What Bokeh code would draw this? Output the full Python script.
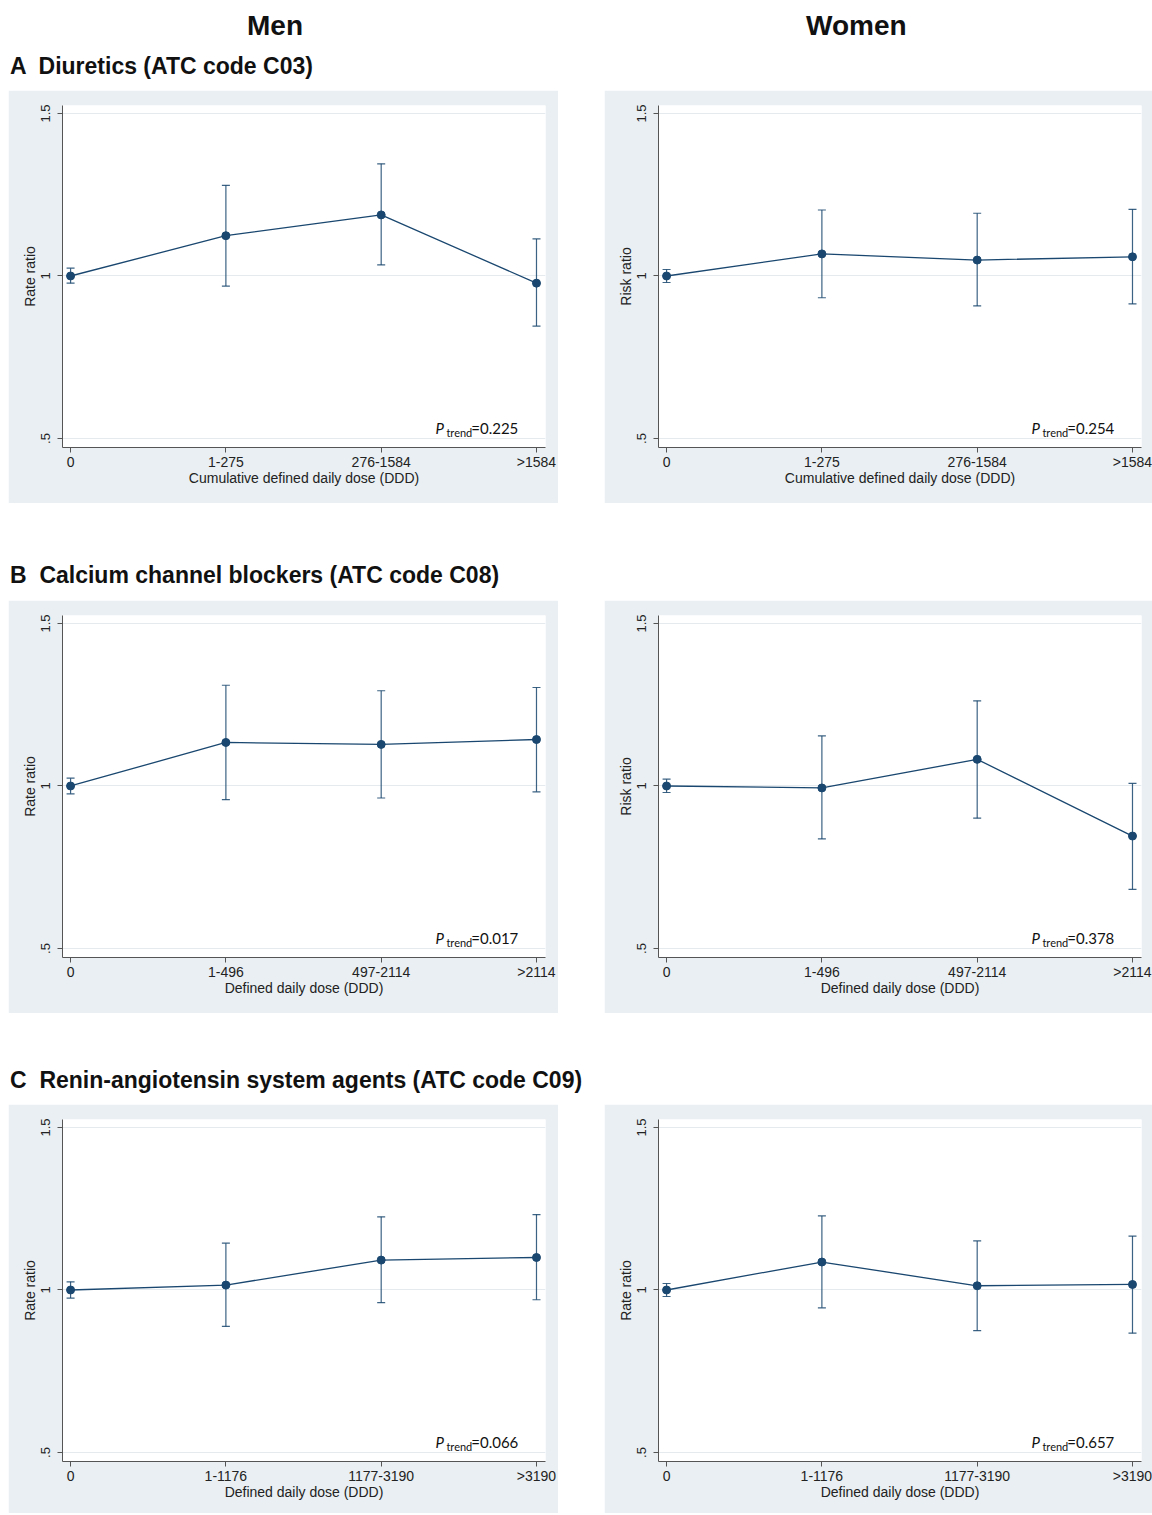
from bokeh.plotting import figure
from bokeh.layouts import column, row
from bokeh.models import (ColumnDataSource, Whisker, TeeHead, FixedTicker, Label,
                          Div, Spacer, Range1d)
from bokeh.embed import file_html
from bokeh.resources import INLINE

# ---------------- data ----------------
dose_pos = [0, 1, 2, 3]
cats_A = ["0", "1-275", "276-1584", ">1584"]
cats_B = ["0", "1-496", "497-2114", ">2114"]
cats_C = ["0", "1-1176", "1177-3190", ">3190"]

men_A_est = [1.0, 1.124, 1.188, 0.978]
men_A_lo = [0.978, 0.969, 1.034, 0.846]
men_A_hi = [1.024, 1.279, 1.345, 1.114]

women_A_est = [1.0, 1.068, 1.049, 1.059]
women_A_lo = [0.980, 0.933, 0.908, 0.914]
women_A_hi = [1.020, 1.203, 1.193, 1.205]

men_B_est = [1.0, 1.134, 1.128, 1.143]
men_B_lo = [0.976, 0.958, 0.963, 0.982]
men_B_hi = [1.024, 1.310, 1.293, 1.303]

women_B_est = [1.0, 0.994, 1.082, 0.846]
women_B_lo = [0.980, 0.837, 0.901, 0.682]
women_B_hi = [1.021, 1.154, 1.262, 1.008]

men_C_est = [1.0, 1.015, 1.092, 1.100]
men_C_lo = [0.975, 0.888, 0.961, 0.970]
men_C_hi = [1.025, 1.144, 1.225, 1.232]

women_C_est = [1.0, 1.086, 1.013, 1.017]
women_C_lo = [0.980, 0.945, 0.875, 0.867]
women_C_hi = [1.020, 1.228, 1.151, 1.166]

p_trend = {"men_A": "0.225", "women_A": "0.254",
           "men_B": "0.017", "women_B": "0.378",
           "men_C": "0.066", "women_C": "0.657"}

y_ticks = [0.5, 1.0, 1.5]
y_tick_labels = [".5", "1", "1.5"]

xlabel_A = "Cumulative defined daily dose (DDD)"
xlabel_BC = "Defined daily dose (DDD)"

# ---------------- style ----------------
BG = "#e9eff2"
NAVY = "#1a476f"
GRID = "#e4eaee"
AXIS = "#555555"
FONT = "Liberation Sans"


def panel(est, lo, hi, cats, xlabel, ylabel, ptxt, width, mb_right, height, mb_bottom):
    p = figure(width=width, height=height, output_backend="svg", toolbar_location=None,
               x_range=Range1d(-0.052, 3.058), y_range=Range1d(0.4723, 1.5246),
               min_border_left=54, min_border_right=mb_right,
               min_border_top=15, min_border_bottom=mb_bottom,
               background_fill_color="white", border_fill_color=BG,
               outline_line_color=None, margin=0)
    src = ColumnDataSource(dict(x=dose_pos, est=est, lo=lo, hi=hi))

    p.xgrid.visible = False
    p.ygrid.grid_line_color = GRID
    p.ygrid.grid_line_width = 1

    for ax in (p.xaxis[0], p.yaxis[0]):
        ax.axis_line_color = AXIS
        ax.major_tick_line_color = AXIS
        ax.minor_tick_line_color = None
        ax.major_tick_out = 5
        ax.major_tick_in = 0
        ax.major_label_text_font = FONT
        ax.axis_label_text_font = FONT
        ax.axis_label_text_font_style = "normal"
        ax.major_label_text_color = "#222222"
        ax.axis_label_text_color = "#222222"

    p.xaxis.ticker = FixedTicker(ticks=dose_pos)
    p.xaxis.major_label_overrides = {t: c for t, c in zip(dose_pos, cats)}
    p.xaxis.major_label_text_font_size = "14px"
    p.xaxis.major_label_standoff = 1
    p.xaxis.axis_label = xlabel
    p.xaxis.axis_label_text_font_size = "14px"
    p.xaxis.axis_label_standoff = -3

    p.yaxis.ticker = FixedTicker(ticks=y_ticks)
    p.yaxis.major_label_overrides = {t: c for t, c in zip(y_ticks, y_tick_labels)}
    p.yaxis.major_label_orientation = "vertical"
    p.yaxis.major_label_text_font_size = "13px"
    p.yaxis.major_label_standoff = 7
    p.yaxis.axis_label = ylabel
    p.yaxis.axis_label_text_font_size = "14px"
    p.yaxis.axis_label_standoff = 1

    w = Whisker(source=src, base="x", upper="hi", lower="lo", dimension="height",
                line_color=NAVY, line_width=1.2, line_alpha=0.85,
                upper_head=TeeHead(size=8, line_color=NAVY, line_width=1.2, line_alpha=0.85),
                lower_head=TeeHead(size=8, line_color=NAVY, line_width=1.2, line_alpha=0.85))
    p.add_layout(w)

    p.line("x", "est", source=src, line_color=NAVY, line_width=1.3)
    p.scatter("x", "est", source=src, size=8, fill_color=NAVY, line_color=NAVY)

    p.add_layout(Label(x=2.35, y=0.533, text="P", text_font="Lato", text_font_style="italic",
                       text_font_size="15px", text_color="#111111", text_baseline="alphabetic"))
    p.add_layout(Label(x=2.42, y=0.517, text="trend", text_font="Lato",
                       text_font_size="11px", text_color="#111111", text_baseline="alphabetic"))
    p.add_layout(Label(x=2.58, y=0.533, text="=" + ptxt, text_font="Lato",
                       text_font_size="15px", text_color="#111111", text_baseline="alphabetic"))
    return p


W_M, W_W, GAP = 550, 548, 46
H_AB, H_C = 413, 409

pA_m = panel(men_A_est, men_A_lo, men_A_hi, cats_A, xlabel_A, "Rate ratio", p_trend["men_A"], W_M, 13, H_AB, 56)
pA_w = panel(women_A_est, women_A_lo, women_A_hi, cats_A, xlabel_A, "Risk ratio", p_trend["women_A"], W_W, 11, H_AB, 56)
pB_m = panel(men_B_est, men_B_lo, men_B_hi, cats_B, xlabel_BC, "Rate ratio", p_trend["men_B"], W_M, 13, H_AB, 56)
pB_w = panel(women_B_est, women_B_lo, women_B_hi, cats_B, xlabel_BC, "Risk ratio", p_trend["women_B"], W_W, 11, H_AB, 56)
pC_m = panel(men_C_est, men_C_lo, men_C_hi, cats_C, xlabel_BC, "Rate ratio", p_trend["men_C"], W_M, 13, H_C, 52)
pC_w = panel(women_C_est, women_C_lo, women_C_hi, cats_C, xlabel_BC, "Rate ratio", p_trend["women_C"], W_W, 11, H_C, 52)

FULLW = W_M + GAP + W_W


def title_div(text, height, top):
    html = ('<div style="position:relative;width:%dpx;height:%dpx;">'
            '<span style="position:absolute;left:2px;top:%dpx;white-space:pre;'
            'font-family:\'Liberation Sans\',Arial,sans-serif;font-weight:bold;'
            'font-size:23px;line-height:23px;color:#111111;">%s</span></div>'
            % (FULLW, height, top, text))
    return Div(text=html, width=FULLW, height=height, margin=0)


header = Div(width=FULLW, height=37, margin=0, text=(
    '<div style="position:relative;width:%dpx;height:37px;'
    'font-family:\'Liberation Sans\',Arial,sans-serif;font-weight:bold;'
    'font-size:28px;line-height:28px;color:#111111;">'
    '<span style="position:absolute;left:239px;top:4px;">Men</span>'
    '<span style="position:absolute;left:798px;top:4px;">Women</span></div>' % FULLW))

tA = title_div("A  Diuretics (ATC code C03)", 45, 10)
tB = title_div("B  Calcium channel blockers (ATC code C08)", 97, 61)
tC = title_div("C  Renin-angiotensin system agents (ATC code C09)", 91, 56)

rA = row(pA_m, Spacer(width=GAP, height=H_AB, margin=0), pA_w, spacing=0, margin=0)
rB = row(pB_m, Spacer(width=GAP, height=H_AB, margin=0), pB_w, spacing=0, margin=0)
rC = row(pC_m, Spacer(width=GAP, height=H_C, margin=0), pC_w, spacing=0, margin=0)

inner = column(header, tA, rA, tB, rB, tC, rC, spacing=0, margin=0)
layout = column(Spacer(width=8, height=8, margin=0),
                row(Spacer(width=8, height=10, margin=0), inner, spacing=0, margin=0),
                spacing=0, margin=0)

open("out.html", "w").write(file_html(layout, INLINE))
